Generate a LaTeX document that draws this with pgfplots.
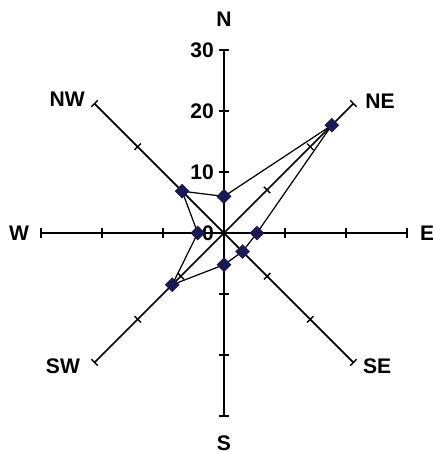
\documentclass[border=0pt]{standalone}
\usepackage{pgfplots}
\pgfplotsset{compat=1.18}
\usepackage{fontspec}
\setmainfont{Liberation Sans}
\definecolor{mk}{RGB}{25,25,85}

\begin{document}
\begin{tikzpicture}
\begin{axis}[
    x=0.122cm, y=0.122cm,
    xmin=-36.72, xmax=34.26, ymin=-35.9, ymax=38.2,
    hide axis, clip=false,
    every axis plot/.append style={black, line width=1pt},
]
% spokes
\foreach \a in {0,45,...,315} {
  \edef\tmp{\noexpand\addplot[data cs=polar, no marks] coordinates {(\a,0) (\a,30)};
    \noexpand\addplot[data cs=polar, only marks, mark=|, mark size=2.6pt,
      mark options={rotate=\a, line width=0.8pt}] coordinates {(\a,10) (\a,20) (\a,30)};}
  \tmp
}
% data: N, NE, E, SE, S, SW, W, NW
\addplot[data cs=polar, black, line width=0.7pt, mark=square*, mark size=2.6pt,
  mark options={rotate=45, fill=mk, draw=mk}] coordinates {
  (90,6) (45,25) (0,5.4) (-45,4.3) (-90,5.2) (-135,12) (180,4.3) (135,9.7) (90,6)
};
% radial labels
\begin{scope}[every node/.style={anchor=east, font=\bfseries\fontsize{12}{14}\selectfont, inner sep=0pt}]
\node at (axis cs:-1.6,30) {30};
\node at (axis cs:-1.6,20) {20};
\node at (axis cs:-1.6,10) {10};
\node at (axis cs:-1.6,0) {0};
\end{scope}
% category labels
\begin{scope}[every node/.style={font=\bfseries\fontsize{12}{14}\selectfont, inner sep=0pt}]
\node at (axis cs:0,35.0) {N};
\node at (axis cs:25.6,21.6) {NE};
\node[anchor=west] at (axis cs:32.1,0) {E};
\node at (axis cs:25.1,-21.8) {SE};
\node at (axis cs:0,-34.4) {S};
\node at (axis cs:-26.4,-21.8) {SW};
\node at (axis cs:-33.6,0) {W};
\node at (axis cs:-25.7,22.0) {NW};
\end{scope}
\coordinate (bl) at (axis cs:-36.72,-35.9);
\coordinate (tr) at (axis cs:34.26,38.2);
\end{axis}
\pgfresetboundingbox
\path[use as bounding box] (bl) rectangle (tr);
\end{tikzpicture}
\end{document}
